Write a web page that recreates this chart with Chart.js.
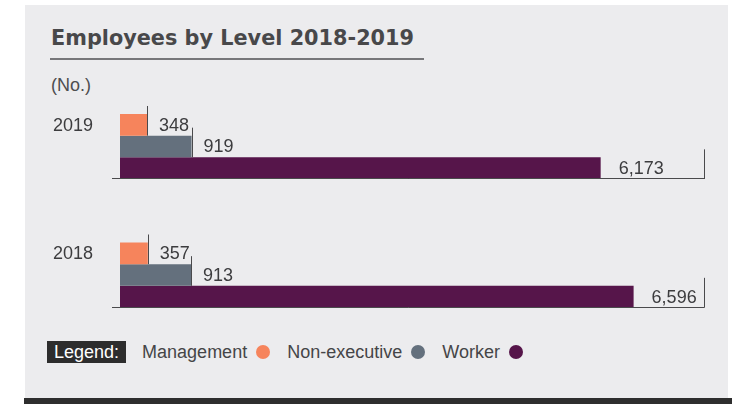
<!DOCTYPE html>
<html>
<head>
<meta charset="utf-8">
<script src="https://cdn.jsdelivr.net/npm/chart.js@4/dist/chart.umd.min.js"></script>
<style>
  html, body { margin: 0; padding: 0; background: #ffffff; }
  #page { position: relative; width: 732px; height: 404px; overflow: hidden; font-family: "Liberation Sans", Arial, sans-serif; }
  #panel { position: absolute; left: 25px; top: 5px; width: 703px; height: 393px; background: #ECECEE; }
  #footer { position: absolute; left: 24px; top: 398px; width: 708px; height: 6px; background: #2E2E2E; }
  #title { position: absolute; left: 51px; top: 26px; margin: 0; font-family: "DejaVu Sans", sans-serif; font-weight: bold; font-size: 20.8px; line-height: 24px; color: #48484A; white-space: nowrap; }
  #rule { position: absolute; left: 50px; top: 58px; width: 374px; height: 2px; background: #77777A; }
  #unit { position: absolute; left: 51px; top: 76px; font-size: 18px; line-height: 18px; color: #4E4E50; }
  #legend { position: absolute; left: 47px; top: 341px; height: 22px; display: flex; align-items: center; font-size: 18px; color: #454547; white-space: nowrap; }
  #legend .tag { background: #2D2D2D; color: #ffffff; height: 22px; line-height: 22px; padding: 0 7px 0 7px; margin-right: 16px; }
  #legend .item { display: flex; align-items: center; margin-right: 17px; }
  #legend .dot { display: inline-block; width: 14px; height: 14px; border-radius: 50%; margin-left: 9px; }
  #chart { position: absolute; left: 0; top: 0; }
</style>
</head>
<body>
<div id="page">
  <div id="panel"></div>
  <div id="footer"></div>
  <h1 id="title">Employees by Level 2018-2019</h1>
  <div id="rule"></div>
  <div id="unit">(No.)</div>
  <div id="legend"></div>
  <canvas id="chart" width="732" height="404"></canvas>
</div>
<script>
// Years shown, top to bottom
const years = ['2019', '2018'];
// Headcount per employee level, in the same order as the years
const management = [348, 357];
const nonExecutive = [919, 913];
const worker = [6173, 6596];
const levelNames = ['Management', 'Non-executive', 'Worker'];
const levelColors = ['#F6845C', '#64707D', '#56154A'];

const series = [management, nonExecutive, worker];

// HTML legend under the plot
const legendEl = document.getElementById('legend');
legendEl.innerHTML = '<span class="tag">Legend:</span>' + levelNames.map((n, i) =>
  '<span class="item">' + n + '<span class="dot" style="background:' + levelColors[i] + '"></span></span>'
).join('');

const fmt = v => v.toLocaleString('en-US');

// Draws the year labels, baselines, end ticks and value labels
const annotate = {
  id: 'annotate',
  afterDatasetsDraw(chart) {
    const ctx = chart.ctx;
    const area = chart.chartArea;
    const metas = series.map((_, d) => chart.getDatasetMeta(d));
    ctx.save();
    ctx.strokeStyle = '#4A4A4C';
    ctx.lineWidth = 1;
    ctx.font = '18px "Liberation Sans", Arial, sans-serif';
    ctx.fillStyle = '#3C3C3E';
    ctx.textBaseline = 'middle';
    years.forEach((yr, i) => {
      const first = metas[0].data[i];
      const last = metas[metas.length - 1].data[i];
      const bottom = last.y + last.height / 2;
      // year label beside the first bar
      ctx.textAlign = 'left';
      ctx.fillText(yr, 53, first.y + 1);
      // baseline under the group
      const by = Math.round(bottom) - 0.5;
      ctx.beginPath();
      ctx.moveTo(112, by);
      ctx.lineTo(area.right + 0.5, by);
      ctx.stroke();
      metas.forEach((m, d) => {
        const bar = m.data[i];
        const top = bar.y - bar.height / 2;
        const bot = bar.y + bar.height / 2;
        const isLast = d === metas.length - 1;
        const tx = Math.round(isLast ? area.right : bar.x) + 0.5;
        ctx.beginPath();
        ctx.moveTo(tx, top - 8);
        ctx.lineTo(tx, bot);
        ctx.stroke();
        ctx.textAlign = 'left';
        ctx.fillText(fmt(series[d][i]), bar.x + (isLast ? 18 : 12), bar.y + 1);
      });
    });
    ctx.restore();
  }
};

new Chart(document.getElementById('chart'), {
  type: 'bar',
  data: {
    labels: years,
    datasets: series.map((vals, d) => ({
      label: levelNames[d],
      data: vals,
      backgroundColor: levelColors[d],
      borderWidth: 0,
      barPercentage: 1,
      categoryPercentage: 0.506
    }))
  },
  options: {
    indexAxis: 'y',
    responsive: false,
    animation: false,
    devicePixelRatio: 1,
    layout: { padding: { left: 120, right: 28, top: 82.25, bottom: 64.75 } },
    plugins: { legend: { display: false }, tooltip: { enabled: false }, title: { display: false } },
    scales: {
      x: { display: false, min: 0, max: 7500, grid: { display: false } },
      y: { display: false, grid: { display: false } }
    }
  },
  plugins: [annotate]
});
</script>
</body>
</html>
